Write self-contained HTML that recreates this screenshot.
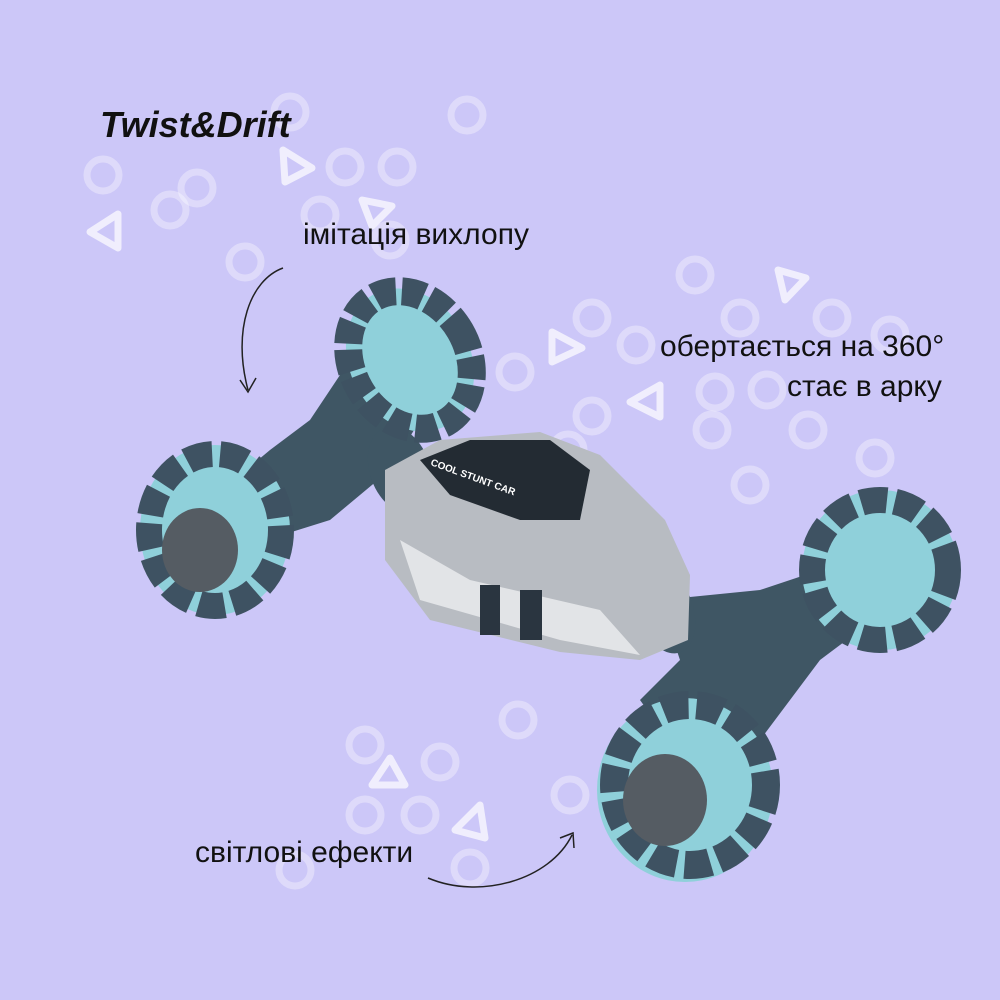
<!DOCTYPE html>
<html><head><meta charset="utf-8"><style>
html,body{margin:0;padding:0}
body{width:1000px;height:1000px;background:#ccc7f8;position:relative;overflow:hidden;font-family:"Liberation Sans","DejaVu Sans",sans-serif}
.t{position:absolute;color:#111;font-size:30px;white-space:nowrap}
</style></head><body>
<svg width="1000" height="1000" style="position:absolute;left:0;top:0">
<g fill="none" stroke="#ffffff" stroke-opacity="0.35" stroke-width="7">
<circle cx="103" cy="175" r="16"/><circle cx="170" cy="210" r="16"/><circle cx="197" cy="188" r="16"/><circle cx="290" cy="112" r="16"/><circle cx="345" cy="167" r="16"/><circle cx="397" cy="167" r="16"/><circle cx="467" cy="115" r="16"/><circle cx="320" cy="215" r="16"/><circle cx="245" cy="262" r="16"/><circle cx="390" cy="240" r="16"/>
<circle cx="695" cy="275" r="16"/><circle cx="592" cy="318" r="16"/><circle cx="636" cy="345" r="16"/><circle cx="740" cy="318" r="16"/><circle cx="515" cy="372" r="16"/><circle cx="832" cy="318" r="16"/><circle cx="715" cy="392" r="16"/><circle cx="767" cy="390" r="16"/><circle cx="592" cy="416" r="16"/><circle cx="712" cy="430" r="16"/><circle cx="808" cy="430" r="16"/><circle cx="875" cy="458" r="16"/><circle cx="750" cy="485" r="16"/><circle cx="568" cy="450" r="16"/><circle cx="890" cy="335" r="16"/>
<circle cx="518" cy="720" r="16"/><circle cx="365" cy="745" r="16"/><circle cx="440" cy="762" r="16"/><circle cx="365" cy="815" r="16"/><circle cx="570" cy="795" r="16"/><circle cx="420" cy="815" r="16"/><circle cx="470" cy="868" r="16"/><circle cx="295" cy="870" r="16"/>
</g>
<g fill="none" stroke="#ffffff" stroke-opacity="0.7" stroke-width="7" stroke-linejoin="round">
<polygon points="90,232 118,214 118,248"/><polygon points="283,150 312,168 285,182"/><polygon points="362,200 392,206 372,226"/><polygon points="778,270 806,278 785,300"/><polygon points="552,332 582,348 552,362"/><polygon points="630,402 660,385 660,417"/><polygon points="372,785 390,758 405,785"/><polygon points="455,830 480,805 485,838"/>
</g>
<g fill="none" stroke="#222" stroke-width="1.5">
<path d="M283,268 C250,280 232,330 248,390"/><path d="M240,380 L248,392 L256,378"/>
<path d="M428,878 C480,900 550,880 572,835"/><path d="M560,838 L573,833 L574,848"/>
</g>
<g fill="#3f5664">
<path d="M370,330 L440,360 L420,420 L390,470 L330,520 L250,545 L210,500 L270,450 L310,420 Z"/>
<path d="M660,600 L760,590 L850,560 L900,600 L820,660 L760,740 L690,770 L640,700 L680,660 Z"/>
<ellipse cx="400" cy="470" rx="30" ry="45" transform="rotate(-20 400 470)"/>
<ellipse cx="665" cy="610" rx="28" ry="45" transform="rotate(-20 665 610)"/>
</g>
<path d="M385,470 L440,440 L540,432 L600,455 L665,520 L690,575 L688,640 L640,660 L560,652 L430,620 L385,560 Z" fill="#b8bcc2"/>
<path d="M420,460 L470,440 L550,440 L590,470 L580,520 L520,520 L450,495 Z" fill="#232b33"/>
<path d="M400,540 L420,600 L560,640 L640,655 L600,610 L470,580 Z" fill="#e2e4e7"/>
<rect x="480" y="585" width="20" height="50" fill="#2a3540"/><rect x="520" y="590" width="22" height="50" fill="#2a3540"/>
<text x="430" y="465" fill="#fff" font-size="10" font-weight="bold" transform="rotate(20 430 465)">COOL STUNT CAR</text>
<g>
<ellipse cx="410" cy="360" rx="60" ry="75" fill="#8fd0da" transform="rotate(-30 410 360)"/>
<ellipse cx="410" cy="360" rx="58" ry="72" fill="none" stroke="#3e5262" stroke-width="28" stroke-dasharray="22 6" transform="rotate(-30 410 360)"/>
<ellipse cx="215" cy="530" rx="75" ry="85" fill="#8fd0da"/>
<ellipse cx="215" cy="530" rx="66" ry="76" fill="none" stroke="#3e5262" stroke-width="26" stroke-dasharray="26 8"/>
<ellipse cx="200" cy="550" rx="38" ry="42" fill="#555c63"/>
<ellipse cx="880" cy="570" rx="78" ry="80" fill="#8fd0da"/>
<ellipse cx="880" cy="570" rx="68" ry="70" fill="none" stroke="#3e5262" stroke-width="26" stroke-dasharray="26 8"/>
<ellipse cx="685" cy="790" rx="88" ry="92" fill="#8fd0da"/>
<ellipse cx="690" cy="785" rx="76" ry="80" fill="none" stroke="#3e5262" stroke-width="28" stroke-dasharray="26 8"/>
<ellipse cx="665" cy="800" rx="42" ry="46" fill="#555c63"/>
</g>
</svg>
<div class="t" style="left:100px;top:104px;font-size:36px;font-weight:bold;font-style:italic">Twist&amp;Drift</div>
<div class="t" style="left:303px;top:218px">імітація вихлопу</div>
<div class="t" style="left:660px;top:330px">обертається на 360°</div>
<div class="t" style="left:787px;top:370px">стає в арку</div>
<div class="t" style="left:195px;top:836px">світлові ефекти</div>
</body></html>
